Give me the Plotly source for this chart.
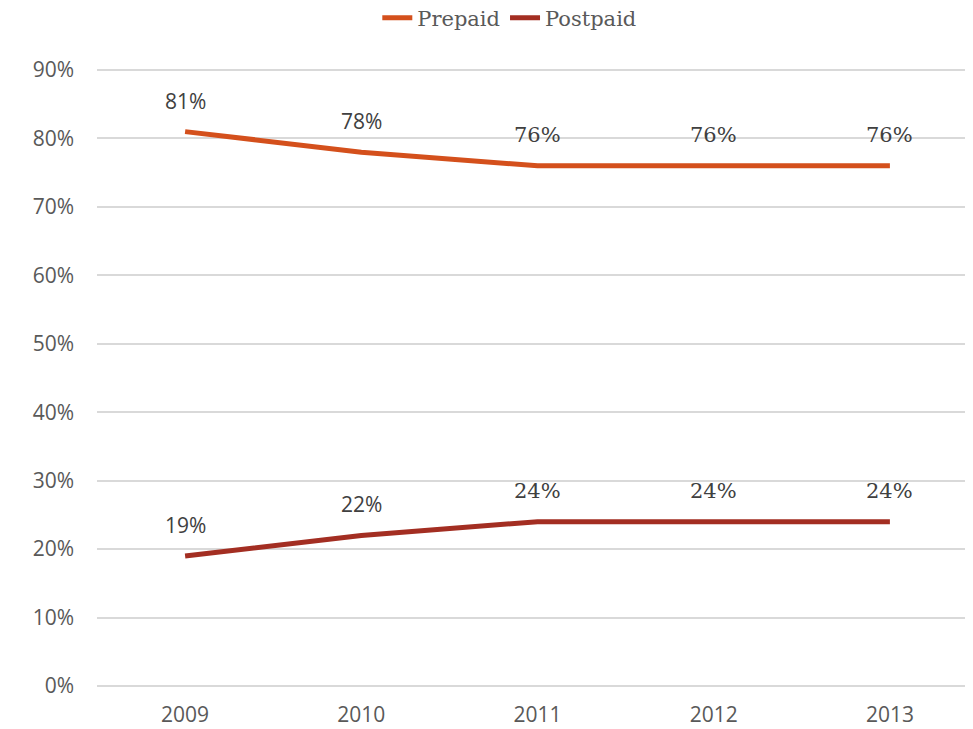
import plotly.graph_objects as go

years = ["2009", "2010", "2011", "2012", "2013"]
prepaid = [81, 78, 76, 76, 76]
postpaid = [19, 22, 24, 24, 24]
y_ticks = [0, 10, 20, 30, 40, 50, 60, 70, 80, 90]

prepaid_color = "#D4501C"
postpaid_color = "#A32E22"
label_fonts = ["Open Sans", "Open Sans", "DejaVu Serif", "DejaVu Serif", "DejaVu Serif"]

fig = go.Figure()
fig.add_trace(go.Scatter(x=years, y=prepaid, mode="lines", name="Prepaid",
                         line=dict(color=prepaid_color, width=5)))
fig.add_trace(go.Scatter(x=years, y=postpaid, mode="lines", name="Postpaid",
                         line=dict(color=postpaid_color, width=5)))

for series in (prepaid, postpaid):
    for i, v in enumerate(series):
        fig.add_annotation(x=i, y=v, xref="x", yref="y", text=f"{v}%",
                           showarrow=False, yshift=31,
                           font=dict(family=label_fonts[i], size=21, color="#404040"))

fig.update_layout(
    width=973, height=729,
    margin=dict(l=89, r=3, t=61, b=50, autoexpand=False),
    plot_bgcolor="white", paper_bgcolor="white",
    showlegend=True,
    legend=dict(orientation="h", x=0.468, xanchor="center", y=1.0825, yanchor="middle",
                font=dict(family="DejaVu Serif", size=21, color="#595959"),
                traceorder="normal"),
    xaxis=dict(type="category", range=[-0.5, 4.5], showgrid=False, zeroline=False,
               showline=False, ticks="",
               tickfont=dict(family="Open Sans", size=21, color="#595959")),
    yaxis=dict(range=[-0.15, 90.15], tickvals=y_ticks, ticktext=[f"{t}%" for t in y_ticks],
               showgrid=True, gridcolor="#D9D9D9", gridwidth=1.5, zeroline=False,
               ticks="", ticklen=0,
               tickfont=dict(family="Open Sans", size=21, color="#595959")),
)
fig.update_yaxes(ticklabelstandoff=22)
fig.update_xaxes(ticklabelstandoff=13)
fig.write_html("out.html")
